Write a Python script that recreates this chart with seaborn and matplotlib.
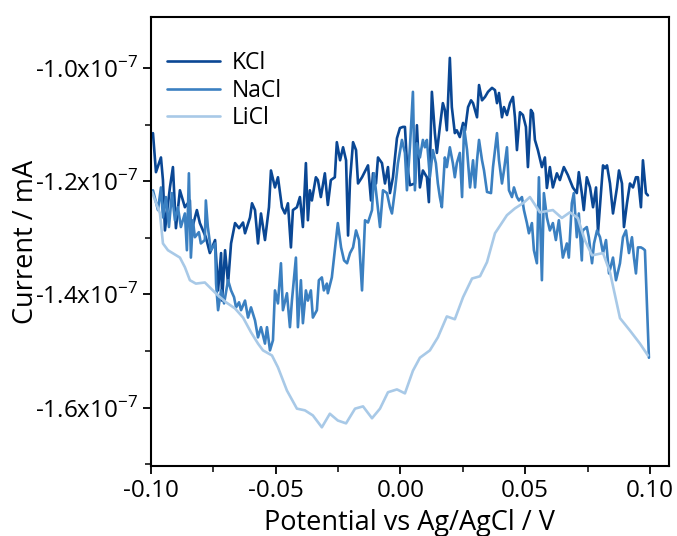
import matplotlib
matplotlib.use("Agg")
import matplotlib.pyplot as plt
from matplotlib.ticker import FuncFormatter, MultipleLocator
import seaborn as sns
import pandas as pd

# potential in V, current in units of 1e-7
kcl_x = [-0.0992, -0.0980, -0.0960, -0.0952, -0.0944, -0.0924, -0.0912, -0.0900, -0.0884, -0.0864,
         -0.0844, -0.0840, -0.0816, -0.0804, -0.0780, -0.0764, -0.0743, -0.0731, -0.0719, -0.0715,
         -0.0703, -0.0691, -0.0679, -0.0663, -0.0647, -0.0631, -0.0623, -0.0603, -0.0595, -0.0583,
         -0.0571, -0.0559, -0.0543, -0.0527, -0.0519, -0.0503, -0.0491, -0.0475, -0.0463, -0.0451,
         -0.0439, -0.0431, -0.0415, -0.0403, -0.0391, -0.0379, -0.0371, -0.0363, -0.0355, -0.0339,
         -0.0331, -0.0319, -0.0303, -0.0291, -0.0279, -0.0263, -0.0255, -0.0242, -0.0230, -0.0218,
         -0.0210, -0.0202, -0.0190, -0.0178, -0.0170, -0.0154, -0.0130, -0.0118, -0.0110, -0.0098,
         -0.0090, -0.0074, -0.0062, -0.0050, -0.0042, -0.0030, -0.0014, -0.0002, 0.0010, 0.0018,
         0.0026, 0.0038, 0.0058, 0.0066, 0.0078, 0.0090, 0.0106, 0.0114, 0.0126, 0.0138,
         0.0146, 0.0158, 0.0170, 0.0178, 0.0186, 0.0198, 0.0206, 0.0218, 0.0226, 0.0238,
         0.0251, 0.0259, 0.0271, 0.0283, 0.0291, 0.0307, 0.0315, 0.0327, 0.0339, 0.0351,
         0.0367, 0.0379, 0.0387, 0.0395, 0.0407, 0.0415, 0.0427, 0.0439, 0.0451, 0.0459,
         0.0467, 0.0479, 0.0491, 0.0503, 0.0511, 0.0523, 0.0531, 0.0539, 0.0551, 0.0567,
         0.0579, 0.0587, 0.0599, 0.0611, 0.0627, 0.0639, 0.0655, 0.0671, 0.0691, 0.0707,
         0.0715, 0.0727, 0.0735, 0.0747, 0.0760, 0.0772, 0.0784, 0.0792, 0.0812, 0.0820,
         0.0828, 0.0840, 0.0852, 0.0868, 0.0876, 0.0888, 0.0896, 0.0908, 0.0920, 0.0932,
         0.0944, 0.0952, 0.0964, 0.0972, 0.0984, 0.0992]
kcl_y = [-1.115, -1.184, -1.158, -1.198, -1.287, -1.211, -1.175, -1.283, -1.216, -1.246,
         -1.234, -1.292, -1.251, -1.274, -1.299, -1.327, -1.304, -1.393, -1.327, -1.411,
         -1.322, -1.381, -1.310, -1.274, -1.283, -1.273, -1.292, -1.264, -1.239, -1.251,
         -1.310, -1.257, -1.304, -1.246, -1.181, -1.211, -1.193, -1.246, -1.257, -1.239,
         -1.317, -1.251, -1.246, -1.228, -1.281, -1.168, -1.269, -1.216, -1.234, -1.193,
         -1.198, -1.228, -1.186, -1.242, -1.198, -1.193, -1.131, -1.163, -1.140, -1.163,
         -1.296, -1.198, -1.131, -1.145, -1.204, -1.193, -1.172, -1.234, -1.186, -1.204,
         -1.158, -1.168, -1.204, -1.175, -1.221, -1.193, -1.124, -1.106, -1.104, -1.104,
         -1.168, -1.207, -1.204, -1.101, -1.211, -1.181, -1.193, -1.237, -1.042, -1.115,
         -1.150, -1.104, -1.062, -1.074, -1.110, -0.982, -1.069, -1.115, -1.110, -1.122,
         -1.097, -1.110, -1.069, -1.057, -1.062, -1.087, -1.030, -1.057, -1.051, -1.042,
         -1.035, -1.039, -1.062, -1.044, -1.087, -1.069, -1.083, -1.062, -1.051, -1.087,
         -1.145, -1.078, -1.083, -1.104, -1.175, -1.074, -1.080, -1.127, -1.145, -1.175,
         -1.158, -1.212, -1.175, -1.211, -1.186, -1.198, -1.175, -1.189, -1.211, -1.221,
         -1.184, -1.221, -1.251, -1.193, -1.211, -1.246, -1.211, -1.290, -1.172, -1.177,
         -1.172, -1.204, -1.257, -1.211, -1.181, -1.204, -1.281, -1.239, -1.204, -1.211,
         -1.193, -1.193, -1.246, -1.163, -1.221, -1.225]

nacl_x = [-0.0992, -0.0972, -0.0960, -0.0952, -0.0940, -0.0928, -0.0916, -0.0904, -0.0892, -0.0880,
          -0.0864, -0.0856, -0.0848, -0.0840, -0.0832, -0.0824, -0.0808, -0.0800, -0.0784, -0.0780,
          -0.0772, -0.0760, -0.0743, -0.0739, -0.0731, -0.0719, -0.0707, -0.0691, -0.0679, -0.0667,
          -0.0659, -0.0647, -0.0639, -0.0623, -0.0611, -0.0599, -0.0583, -0.0571, -0.0559, -0.0543,
          -0.0535, -0.0523, -0.0511, -0.0503, -0.0491, -0.0479, -0.0471, -0.0455, -0.0443, -0.0435,
          -0.0419, -0.0411, -0.0399, -0.0391, -0.0379, -0.0371, -0.0359, -0.0351, -0.0335, -0.0327,
          -0.0315, -0.0307, -0.0295, -0.0291, -0.0275, -0.0263, -0.0251, -0.0238, -0.0226, -0.0214,
          -0.0202, -0.0190, -0.0178, -0.0166, -0.0154, -0.0142, -0.0130, -0.0114, -0.0106, -0.0094,
          -0.0082, -0.0070, -0.0054, -0.0042, -0.0034, -0.0022, -0.0010, 0.0006, 0.0018, 0.0026,
          0.0038, 0.0050, 0.0058, 0.0066, 0.0078, 0.0090, 0.0098, 0.0106, 0.0118, 0.0130,
          0.0142, 0.0150, 0.0158, 0.0166, 0.0178, 0.0186, 0.0198, 0.0210, 0.0218, 0.0226,
          0.0238, 0.0247, 0.0255, 0.0267, 0.0279, 0.0291, 0.0299, 0.0307, 0.0315, 0.0327,
          0.0335, 0.0347, 0.0363, 0.0371, 0.0387, 0.0395, 0.0407, 0.0415, 0.0427, 0.0435,
          0.0447, 0.0455, 0.0467, 0.0475, 0.0487, 0.0495, 0.0507, 0.0515, 0.0527, 0.0535,
          0.0547, 0.0555, 0.0567, 0.0575, 0.0587, 0.0599, 0.0611, 0.0623, 0.0635, 0.0651,
          0.0667, 0.0675, 0.0687, 0.0695, 0.0707, 0.0715, 0.0727, 0.0731, 0.0747, 0.0755,
          0.0768, 0.0776, 0.0788, 0.0800, 0.0812, 0.0824, 0.0836, 0.0852, 0.0864, 0.0880,
          0.0892, 0.0904, 0.0916, 0.0928, 0.0936, 0.0944, 0.0952, 0.0964, 0.0972, 0.0980,
          0.0988, 0.0996]
nacl_y = [-1.216, -1.251, -1.211, -1.264, -1.228, -1.281, -1.221, -1.269, -1.246, -1.281,
          -1.257, -1.322, -1.186, -1.335, -1.269, -1.299, -1.290, -1.310, -1.304, -1.234,
          -1.281, -1.322, -1.310, -1.381, -1.428, -1.393, -1.416, -1.375, -1.393, -1.405,
          -1.423, -1.414, -1.428, -1.411, -1.441, -1.423, -1.446, -1.476, -1.458, -1.487,
          -1.458, -1.499, -1.481, -1.393, -1.416, -1.345, -1.428, -1.398, -1.458, -1.411,
          -1.335, -1.458, -1.375, -1.451, -1.393, -1.411, -1.393, -1.441, -1.428, -1.375,
          -1.370, -1.393, -1.381, -1.398, -1.370, -1.322, -1.274, -1.317, -1.340, -1.345,
          -1.327, -1.317, -1.287, -1.304, -1.393, -1.269, -1.273, -1.251, -1.186, -1.234,
          -1.281, -1.216, -1.221, -1.246, -1.257, -1.216, -1.168, -1.127, -1.150, -1.216,
          -1.140, -1.042, -1.216, -1.133, -1.158, -1.127, -1.140, -1.127, -1.193, -1.145,
          -1.168, -1.204, -1.228, -1.246, -1.158, -1.175, -1.140, -1.168, -1.193, -1.168,
          -1.150, -1.228, -1.104, -1.145, -1.211, -1.163, -1.211, -1.163, -1.127, -1.163,
          -1.181, -1.219, -1.221, -1.175, -1.115, -1.163, -1.204, -1.181, -1.140, -1.216,
          -1.228, -1.211, -1.228, -1.234, -1.228, -1.251, -1.274, -1.292, -1.274, -1.322,
          -1.345, -1.193, -1.375, -1.221, -1.264, -1.287, -1.274, -1.304, -1.269, -1.335,
          -1.310, -1.335, -1.239, -1.221, -1.299, -1.257, -1.340, -1.287, -1.281, -1.299,
          -1.345, -1.310, -1.287, -1.299, -1.327, -1.304, -1.363, -1.335, -1.375, -1.345,
          -1.299, -1.287, -1.327, -1.299, -1.335, -1.363, -1.317, -1.317, -1.319, -1.322,
          -1.416, -1.512]

licl_x = [-0.0996, -0.0964, -0.0952, -0.0932, -0.0884, -0.0864, -0.0844, -0.0820, -0.0784, -0.0752,
          -0.0731, -0.0699, -0.0663, -0.0631, -0.0599, -0.0571, -0.0551, -0.0515, -0.0491, -0.0455,
          -0.0415, -0.0383, -0.0351, -0.0315, -0.0283, -0.0251, -0.0218, -0.0182, -0.0150, -0.0114,
          -0.0082, -0.0050, -0.0014, 0.0018, 0.0050, 0.0078, 0.0118, 0.0150, 0.0186, 0.0218,
          0.0251, 0.0287, 0.0319, 0.0347, 0.0379, 0.0427, 0.0459, 0.0491, 0.0519, 0.0559,
          0.0611, 0.0647, 0.0679, 0.0711, 0.0739, 0.0768, 0.0812, 0.0840, 0.0880, 0.0920,
          0.0960, 0.0992]
licl_y = [-1.219, -1.257, -1.310, -1.322, -1.335, -1.352, -1.375, -1.381, -1.379, -1.393,
          -1.402, -1.414, -1.425, -1.441, -1.467, -1.487, -1.499, -1.508, -1.529, -1.570,
          -1.602, -1.605, -1.614, -1.635, -1.611, -1.623, -1.628, -1.602, -1.598, -1.619,
          -1.602, -1.573, -1.568, -1.575, -1.535, -1.512, -1.499, -1.476, -1.439, -1.444,
          -1.405, -1.372, -1.368, -1.343, -1.292, -1.260, -1.248, -1.239, -1.228, -1.255,
          -1.251, -1.265, -1.255, -1.265, -1.304, -1.331, -1.327, -1.361, -1.442, -1.464,
          -1.487, -1.508]

series = ["KCl", "NaCl", "LiCl"]
colors = {"KCl": "#0a4794", "NaCl": "#3b80c1", "LiCl": "#a8c9e7"}

frames = []
for name, xs, ys in [("KCl", kcl_x, kcl_y), ("NaCl", nacl_x, nacl_y), ("LiCl", licl_x, licl_y)]:
    frames.append(pd.DataFrame({"potential": xs, "current": [v * 1e-7 for v in ys], "electrolyte": name}))
df = pd.concat(frames, ignore_index=True)

sns.set_style("ticks")
plt.rcParams['font.family'] = ['Open Sans', 'DejaVu Sans']
plt.rcParams['mathtext.fontset'] = 'custom'
plt.rcParams['mathtext.rm'] = 'Open Sans'
plt.rcParams['text.color'] = 'black'
plt.rcParams['axes.labelcolor'] = 'black'
plt.rcParams['xtick.color'] = 'black'
plt.rcParams['ytick.color'] = 'black'

fig = plt.figure(figsize=(6.77, 5.36), dpi=100)
ax = fig.add_axes([0.223, 0.131, 0.765, 0.837])

sns.lineplot(data=df, x="potential", y="current", hue="electrolyte", hue_order=series,
             palette=colors, sort=False, estimator=None, linewidth=1.9, ax=ax)

ax.set_xlim(-0.10, 0.1076)
ax.set_ylim(-1.703e-7, -0.91e-7)
ax.xaxis.set_major_locator(MultipleLocator(0.05))
ax.xaxis.set_minor_locator(MultipleLocator(0.025))
ax.yaxis.set_major_locator(MultipleLocator(0.2e-7))
ax.yaxis.set_minor_locator(MultipleLocator(0.1e-7))
ax.xaxis.set_major_formatter(FuncFormatter(lambda v, p: f"{v:.2f}"))
ax.yaxis.set_major_formatter(FuncFormatter(lambda v, p: f"{v / 1e-7:.1f}x10$^{{-7}}$"))
ax.tick_params(which="major", length=6, width=1.3, labelsize=17.5, direction="out")
ax.tick_params(which="minor", length=4, width=1.1, direction="out")
for s in ax.spines.values():
    s.set_linewidth(1.5)
    s.set_color("black")

ax.set_xlabel("Potential vs Ag/AgCl / V", fontsize=19.5, labelpad=4)
ax.set_ylabel("Current / mA", fontsize=19.5, labelpad=-4)

ax.legend(title=None, frameon=False, loc="upper left", bbox_to_anchor=(-0.008, 0.97),
          fontsize=16.5, handlelength=2.3, labelspacing=0.15, handletextpad=0.5)

fig.savefig("out.png", dpi=100)
